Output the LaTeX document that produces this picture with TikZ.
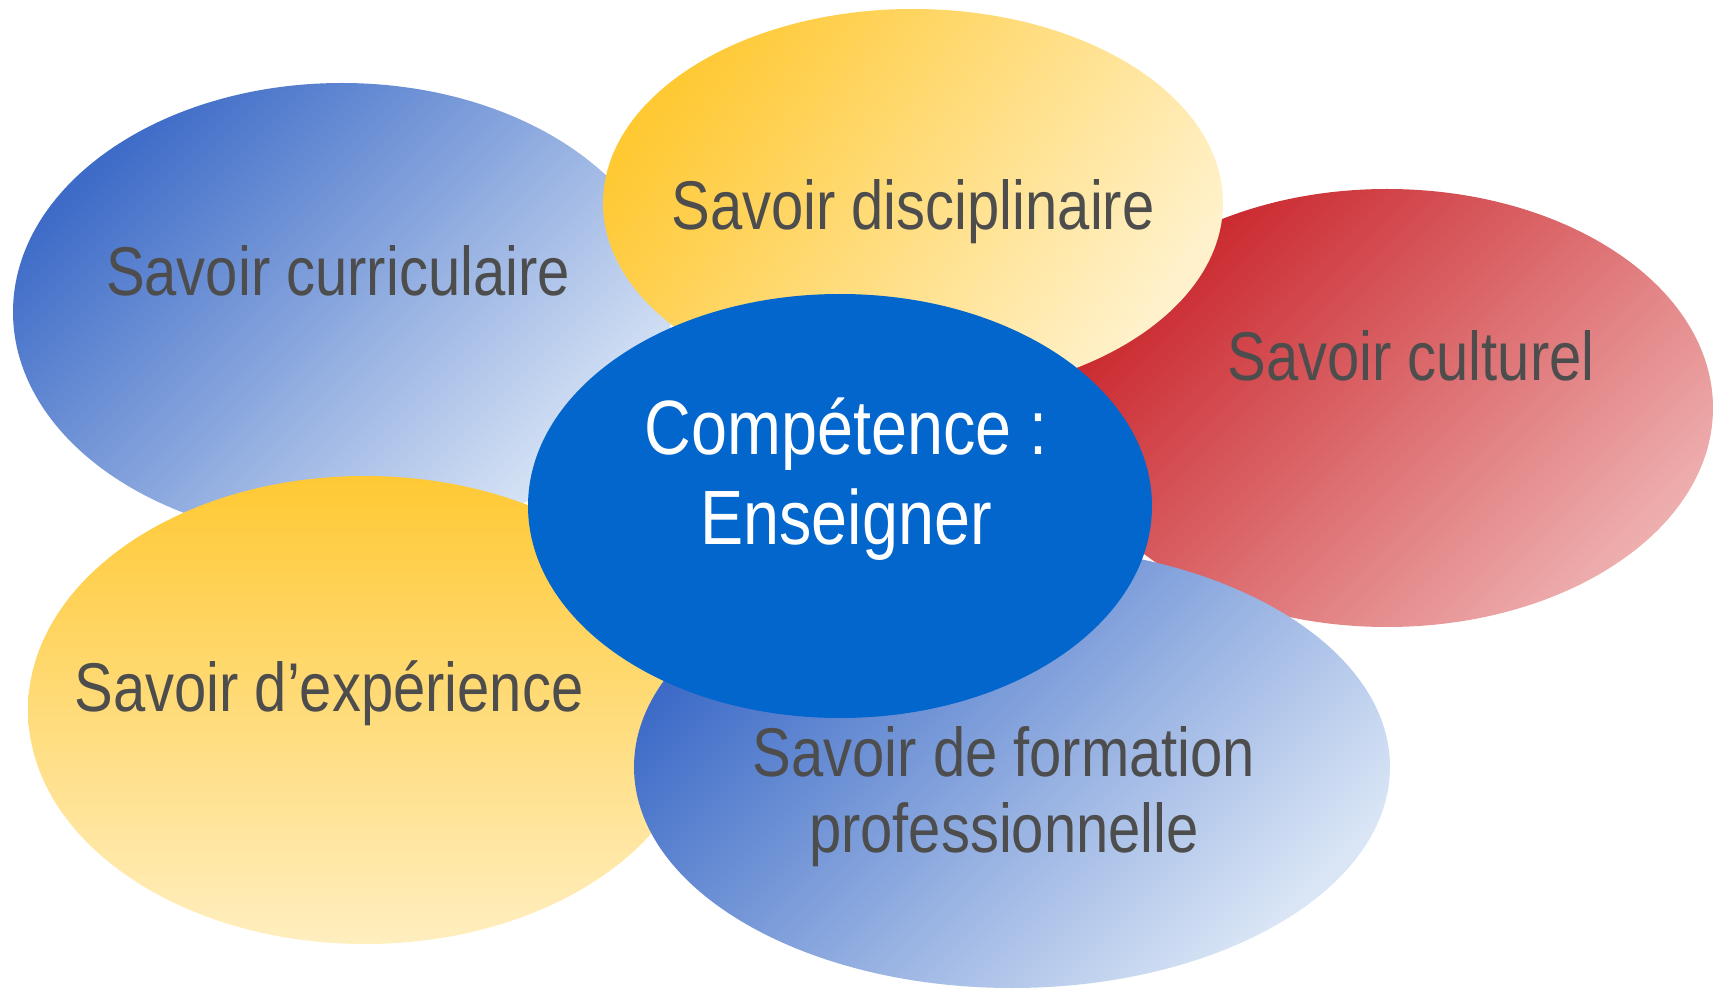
\documentclass[tikz,border=0pt]{standalone}
\usepackage{fontspec}
\setmainfont{Liberation Sans}[FakeStretch=0.84]
\usetikzlibrary{shapes.geometric}
\definecolor{txtgray}{HTML}{4D4D4D}
\definecolor{bluedark}{HTML}{3D6BC7}
\definecolor{bluelight}{HTML}{DAE6F6}
\definecolor{yeldark}{HTML}{FFC934}
\definecolor{yellight}{HTML}{FFEEBF}
\definecolor{reddark}{HTML}{C9252B}
\definecolor{redlight}{HTML}{EEAEAE}
\definecolor{corebl}{HTML}{0366CC}
\begin{document}
\begin{tikzpicture}[x=0.5pt,y=-0.5pt,
  blob/.style={ellipse, inner sep=0pt, draw=none},
  lbl/.style={text=txtgray, font=\fontsize{34.5}{38}\selectfont, align=center, inner sep=0pt, anchor=base},
  corelbl/.style={text=white, font=\fontsize{38.5}{45}\selectfont, align=center, inner sep=0pt, anchor=base}]
\useasboundingbox (0,0) rectangle (1719,989);
% Savoir culturel
\node[blob, minimum width=326pt, minimum height=219pt,
  top color=reddark, bottom color=redlight, shading angle=45] (cult) at (1387,408) {};
% Savoir curriculaire
\node[blob, minimum width=329pt, minimum height=229pt,
  top color=bluedark, bottom color=bluelight, shading angle=45] (curr) at (342,312) {};
% Savoir disciplinaire
\node[blob, minimum width=310pt, minimum height=194pt,
  top color=yeldark, bottom color=yellight!80!white, shading angle=55] (disc) at (913,203) {};
% Savoir d'experience
\node[blob, minimum width=337pt, minimum height=234pt,
  top color=yeldark, bottom color=yellight] (expe) at (365,710) {};
% Savoir de formation professionnelle
\node[blob, minimum width=378pt, minimum height=221pt,
  top color=bluedark, bottom color=bluelight, shading angle=45] (form) at (1012,767) {};
% Centre
\node[blob, minimum width=312pt, minimum height=212pt, fill=corebl] (core) at (840,506) {};
% Labels
\node[lbl] (currT) at (338,296) {Savoir curriculaire};
\node[lbl] (discT) at (913,230) {Savoir disciplinaire};
\node[lbl] (cultT) at (1411,381) {Savoir culturel};
\node[lbl] (expeT) at (329,711) {Savoir d’expérience};
\node[lbl] (formT) at (1004,852) {Savoir de formation\\professionnelle};
\node[corelbl] (coreT) at (846,545) {Compétence :\\Enseigner};
\end{tikzpicture}
\end{document}
